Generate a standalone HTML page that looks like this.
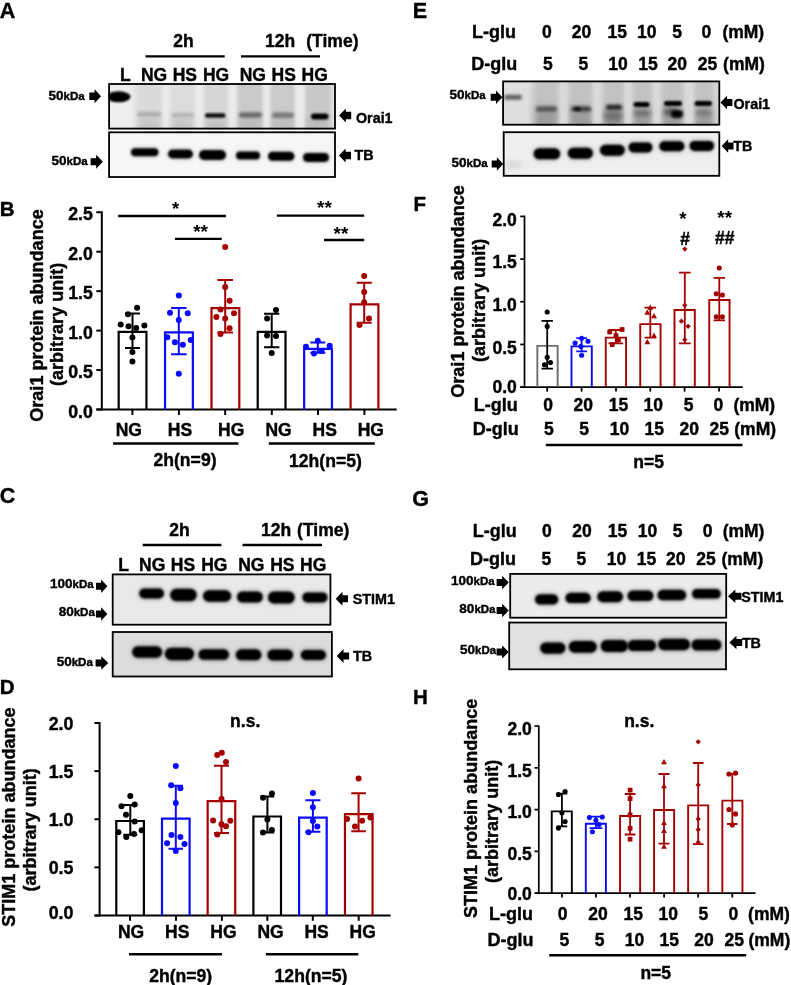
<!DOCTYPE html>
<html><head><meta charset="utf-8"><style>
html,body{margin:0;padding:0;background:#fff;}
svg{display:block;will-change:transform;}
text{font-family:"Liberation Sans", sans-serif;stroke:#000;stroke-width:0.4px;}
</style></head><body>
<svg width="791" height="985" viewBox="0 0 791 985">
<defs><filter id="b0_8" x="-50%" y="-50%" width="200%" height="200%"><feGaussianBlur stdDeviation="0.8"/></filter><filter id="b1" x="-50%" y="-50%" width="200%" height="200%"><feGaussianBlur stdDeviation="1"/></filter><filter id="b1_2" x="-50%" y="-50%" width="200%" height="200%"><feGaussianBlur stdDeviation="1.2"/></filter><filter id="b1_5" x="-50%" y="-50%" width="200%" height="200%"><feGaussianBlur stdDeviation="1.5"/></filter><filter id="b1_6" x="-50%" y="-50%" width="200%" height="200%"><feGaussianBlur stdDeviation="1.6"/></filter><filter id="b1_8" x="-50%" y="-50%" width="200%" height="200%"><feGaussianBlur stdDeviation="1.8"/></filter><filter id="b2" x="-50%" y="-50%" width="200%" height="200%"><feGaussianBlur stdDeviation="2"/></filter><filter id="b2_2" x="-50%" y="-50%" width="200%" height="200%"><feGaussianBlur stdDeviation="2.2"/></filter><filter id="b2_5" x="-50%" y="-50%" width="200%" height="200%"><feGaussianBlur stdDeviation="2.5"/></filter><filter id="b3" x="-50%" y="-50%" width="200%" height="200%"><feGaussianBlur stdDeviation="3"/></filter></defs>
<rect width="791" height="985" fill="#fff"/>
<text x="-0.3" y="18" font-size="21.5" text-anchor="start" font-weight="bold" fill="#000" >A</text>
<text x="183.5" y="47" font-size="17.5" text-anchor="middle" font-weight="bold" fill="#000" >2h</text>
<text x="280" y="47.3" font-size="17.5" text-anchor="middle" font-weight="bold" fill="#000" >12h</text>
<text x="332.4" y="47.3" font-size="17.5" text-anchor="middle" font-weight="bold" fill="#000" >(Time)</text>
<line x1="145.5" y1="56.4" x2="224.7" y2="56.4" stroke="#000" stroke-width="2.4"/>
<line x1="241" y1="56.4" x2="320" y2="56.4" stroke="#000" stroke-width="2.4"/>
<text x="125.3" y="80.5" font-size="17.5" text-anchor="middle" font-weight="bold" fill="#000" >L</text>
<text x="154.1" y="80.5" font-size="17.5" text-anchor="middle" font-weight="bold" fill="#000" >NG</text>
<text x="184.8" y="80.5" font-size="17.5" text-anchor="middle" font-weight="bold" fill="#000" >HS</text>
<text x="216" y="80.5" font-size="17.5" text-anchor="middle" font-weight="bold" fill="#000" >HG</text>
<text x="252.8" y="80.5" font-size="17.5" text-anchor="middle" font-weight="bold" fill="#000" >NG</text>
<text x="283.7" y="80.5" font-size="17.5" text-anchor="middle" font-weight="bold" fill="#000" >HS</text>
<text x="314.7" y="80.5" font-size="17.5" text-anchor="middle" font-weight="bold" fill="#000" >HG</text>
<text x="84.6" y="100" text-anchor="end" font-weight="bold" font-size="13.5">50<tspan font-size="11.5">kDa</tspan></text>
<path d="M89.3,92.55 H94.565 V89.3 L101,96.3 L94.565,103.3 V100.05 H89.3 Z" fill="#000"/>
<text x="87.6" y="164.9" text-anchor="end" font-weight="bold" font-size="13.5">50<tspan font-size="11.5">kDa</tspan></text>
<path d="M90.6,158.3 H96.135 V154.8 L102.9,161.8 L96.135,168.8 V165.3 H90.6 Z" fill="#000"/>
<clipPath id="cA1"><rect x="108.2" y="83.1" width="227.7" height="46.400000000000006"/></clipPath><g clip-path="url(#cA1)">
<rect x="109.10000000000001" y="84.0" width="225.89999999999998" height="44.60000000000001" fill="#e4e4e4" stroke="none"/>
<rect x="108" y="84" width="26" height="45" fill="#eeeeee" opacity="1" filter="url(#b2)"/>
<rect x="137" y="80" width="25" height="52" fill="#dadada" opacity="1" filter="url(#b2_2)"/>
<rect x="170" y="80" width="25" height="52" fill="#dcdcdc" opacity="1" filter="url(#b2_2)"/>
<rect x="204" y="80" width="24" height="52" fill="#d6d6d6" opacity="1" filter="url(#b2_2)"/>
<rect x="237" y="80" width="26" height="52" fill="#cacaca" opacity="1" filter="url(#b2_2)"/>
<rect x="270" y="80" width="25" height="52" fill="#cbcbcb" opacity="1" filter="url(#b2_2)"/>
<rect x="305" y="80" width="26" height="52" fill="#c8c8c8" opacity="1" filter="url(#b2_2)"/>
<rect x="163" y="80" width="6" height="52" fill="#ebebeb" opacity="1" filter="url(#b1_5)"/>
<rect x="196" y="80" width="7" height="52" fill="#ebebeb" opacity="1" filter="url(#b1_5)"/>
<rect x="229" y="80" width="7" height="52" fill="#ebebeb" opacity="1" filter="url(#b1_5)"/>
<rect x="264" y="80" width="5" height="52" fill="#ebebeb" opacity="1" filter="url(#b1_5)"/>
<rect x="296" y="80" width="8" height="52" fill="#ebebeb" opacity="1" filter="url(#b1_5)"/>
<rect x="139" y="118" width="21" height="16" fill="#b0b0b0" opacity="0.5" filter="url(#b3)"/>
<rect x="172" y="118" width="21" height="16" fill="#b0b0b0" opacity="0.5" filter="url(#b3)"/>
<rect x="206" y="118" width="20" height="16" fill="#b0b0b0" opacity="0.5" filter="url(#b3)"/>
<rect x="239" y="118" width="22" height="16" fill="#b0b0b0" opacity="0.5" filter="url(#b3)"/>
<rect x="272" y="118" width="21" height="16" fill="#b0b0b0" opacity="0.5" filter="url(#b3)"/>
<rect x="307" y="118" width="21" height="16" fill="#b0b0b0" opacity="0.5" filter="url(#b3)"/>
<ellipse cx="118.5" cy="96.8" rx="12.0" ry="5.5" fill="#000" opacity="1" filter="url(#b1)"/>
<rect x="137" y="111.8" width="24" height="5" rx="2.5" fill="#adadad" opacity="1" filter="url(#b1_8)"/>
<rect x="172" y="112.75" width="22" height="4.5" rx="2.25" fill="#b2b2b2" opacity="1" filter="url(#b1_8)"/>
<rect x="205" y="113.25" width="20.5" height="4.5" rx="2.25" fill="#0a0a0a" opacity="1" filter="url(#b1)"/>
<rect x="239" y="112.15" width="23" height="5.5" rx="2.75" fill="#6a6a6a" opacity="1" filter="url(#b1_5)"/>
<rect x="272" y="112.45" width="22" height="5.5" rx="2.75" fill="#777" opacity="1" filter="url(#b1_5)"/>
<rect x="311" y="113.4" width="17.5" height="6" rx="3.0" fill="#000" opacity="1" filter="url(#b1)"/>
</g>
<rect x="109.10000000000001" y="84.0" width="225.89999999999998" height="44.60000000000001" fill="none" stroke="#000" stroke-width="1.8"/>
<clipPath id="cA2"><rect x="108.2" y="131.4" width="227.7" height="46.5"/></clipPath><g clip-path="url(#cA2)">
<rect x="109.10000000000001" y="132.3" width="225.89999999999998" height="44.7" fill="#f6f6f6" stroke="none"/>
<rect x="130" y="146.8" width="29.400000000000006" height="11" rx="5.5" fill="#000" opacity="0.12" filter="url(#b2_2)"/>
<rect x="131" y="148.3" width="27.400000000000006" height="8" rx="4.0" fill="#000" opacity="1" filter="url(#b0_8)"/>
<rect x="167" y="148.1" width="27" height="11.8" rx="5.9" fill="#000" opacity="0.12" filter="url(#b2_2)"/>
<rect x="168" y="149.6" width="25" height="8.8" rx="4.4" fill="#000" opacity="1" filter="url(#b0_8)"/>
<rect x="198" y="148.5" width="29" height="13" rx="6.5" fill="#000" opacity="0.12" filter="url(#b2_2)"/>
<rect x="199" y="150.0" width="27" height="10" rx="5.0" fill="#000" opacity="1" filter="url(#b0_8)"/>
<rect x="235" y="149.9" width="26" height="11" rx="5.5" fill="#000" opacity="0.12" filter="url(#b2_2)"/>
<rect x="236" y="151.4" width="24" height="8" rx="4.0" fill="#000" opacity="1" filter="url(#b0_8)"/>
<rect x="267" y="150.3" width="28.399999999999977" height="12" rx="6.0" fill="#000" opacity="0.12" filter="url(#b2_2)"/>
<rect x="268" y="151.8" width="26.399999999999977" height="9" rx="4.5" fill="#000" opacity="1" filter="url(#b0_8)"/>
<rect x="302" y="151.5" width="28" height="12" rx="6.0" fill="#000" opacity="0.12" filter="url(#b2_2)"/>
<rect x="303" y="153.0" width="26" height="9" rx="4.5" fill="#000" opacity="1" filter="url(#b0_8)"/>
</g>
<rect x="109.10000000000001" y="132.3" width="225.89999999999998" height="44.7" fill="none" stroke="#000" stroke-width="1.8"/>
<path d="M351.2,111.85 H345.8 V108.6 L339.2,115.6 L345.8,122.6 V119.35 H351.2 Z" fill="#000"/>
<text x="356" y="122.7" font-size="14.3" text-anchor="start" font-weight="bold" fill="#000" >Orai1</text>
<path d="M351,151.65 H345.6 V148.4 L339,155.4 L345.6,162.4 V159.15 H351 Z" fill="#000"/>
<text x="354.6" y="160.4" font-size="14.3" text-anchor="start" font-weight="bold" fill="#000" >TB</text>
<text x="-0.2" y="216" font-size="20.5" text-anchor="start" font-weight="bold" fill="#000" >B</text>
<line x1="101.8" y1="211.3" x2="101.8" y2="410.5" stroke="#000" stroke-width="2"/>
<line x1="96.3" y1="409.5" x2="101.8" y2="409.5" stroke="#000" stroke-width="2"/>
<text x="92.8" y="417.5" font-size="17.7" text-anchor="end" font-weight="bold" fill="#000" >0.0</text>
<line x1="96.3" y1="370.05" x2="101.8" y2="370.05" stroke="#000" stroke-width="2"/>
<text x="92.8" y="378.05" font-size="17.7" text-anchor="end" font-weight="bold" fill="#000" >0.5</text>
<line x1="96.3" y1="330.6" x2="101.8" y2="330.6" stroke="#000" stroke-width="2"/>
<text x="92.8" y="338.6" font-size="17.7" text-anchor="end" font-weight="bold" fill="#000" >1.0</text>
<line x1="96.3" y1="291.15" x2="101.8" y2="291.15" stroke="#000" stroke-width="2"/>
<text x="92.8" y="299.15" font-size="17.7" text-anchor="end" font-weight="bold" fill="#000" >1.5</text>
<line x1="96.3" y1="251.7" x2="101.8" y2="251.7" stroke="#000" stroke-width="2"/>
<text x="92.8" y="259.7" font-size="17.7" text-anchor="end" font-weight="bold" fill="#000" >2.0</text>
<line x1="96.3" y1="212.25" x2="101.8" y2="212.25" stroke="#000" stroke-width="2"/>
<text x="92.8" y="220.25" font-size="17.7" text-anchor="end" font-weight="bold" fill="#000" >2.5</text>
<line x1="96.3" y1="409.5" x2="396.7" y2="409.5" stroke="#000" stroke-width="2"/>
<text x="0" y="0" font-size="18.05" text-anchor="middle" font-weight="bold" transform="translate(42.5,315.5) rotate(-90)">Orai1 protein abundance</text>
<text x="0" y="0" font-size="18.05" text-anchor="middle" font-weight="bold" transform="translate(63.2,324.4) rotate(-90)">(arbitrary unit)</text>
<path d="M118.65,409.5 V331.8 H146.45000000000002 V409.5" fill="none" stroke="#000" stroke-width="2.2"/>
<path d="M165.04999999999998,409.5 V332.3 H192.85 V409.5" fill="none" stroke="#0a0aff" stroke-width="2.2"/>
<path d="M211.5,409.5 V308.20000000000005 H239.3 V409.5" fill="none" stroke="#a50000" stroke-width="2.2"/>
<path d="M257.70000000000005,409.5 V331.90000000000003 H285.5 V409.5" fill="none" stroke="#000" stroke-width="2.2"/>
<path d="M304.15000000000003,409.5 V348.8 H331.95 V409.5" fill="none" stroke="#0a0aff" stroke-width="2.2"/>
<path d="M350.6,409.5 V304.40000000000003 H378.4 V409.5" fill="none" stroke="#a50000" stroke-width="2.2"/>
<path d="M132.5,313.6 V347.9 M125.0,313.6 H140.0 M125.0,347.9 H140.0" fill="none" stroke="#000" stroke-width="2"/>
<path d="M178.8,308 V354.2 M171.05,308 H186.55 M171.05,354.2 H186.55" fill="none" stroke="#0a0aff" stroke-width="2"/>
<path d="M225.2,279.9 V332.5 M217.39999999999998,279.9 H233.0 M217.39999999999998,332.5 H233.0" fill="none" stroke="#a50000" stroke-width="2"/>
<path d="M271.7,313.8 V347.3 M264.05,313.8 H279.34999999999997 M264.05,347.3 H279.34999999999997" fill="none" stroke="#000" stroke-width="2"/>
<path d="M317.8,342.6 V352.8 M310.3,342.6 H325.3 M310.3,352.8 H325.3" fill="none" stroke="#0a0aff" stroke-width="2"/>
<path d="M364.2,282.8 V322.7 M356.59999999999997,282.8 H371.8 M356.59999999999997,322.7 H371.8" fill="none" stroke="#a50000" stroke-width="2"/>
<circle cx="137.1" cy="307.7" r="3.0" fill="#000"/>
<circle cx="128" cy="314.3" r="3.0" fill="#000"/>
<circle cx="120.7" cy="324.4" r="3.0" fill="#000"/>
<circle cx="128.5" cy="326.3" r="3.0" fill="#000"/>
<circle cx="136.2" cy="328" r="3.0" fill="#000"/>
<circle cx="144.4" cy="325.4" r="3.0" fill="#000"/>
<circle cx="132.4" cy="337.4" r="3.0" fill="#000"/>
<circle cx="132.4" cy="352" r="3.0" fill="#000"/>
<circle cx="132.4" cy="361.4" r="3.0" fill="#000"/>
<circle cx="276" cy="310" r="3.0" fill="#000"/>
<circle cx="267.1" cy="318.5" r="3.0" fill="#000"/>
<circle cx="267.1" cy="335.6" r="3.0" fill="#000"/>
<circle cx="276" cy="336" r="3.0" fill="#000"/>
<circle cx="271.7" cy="353" r="3.0" fill="#000"/>
<circle cx="178.8" cy="295.5" r="3.0" fill="#0a0aff"/>
<circle cx="170" cy="312.8" r="3.0" fill="#0a0aff"/>
<circle cx="187.7" cy="313.2" r="3.0" fill="#0a0aff"/>
<circle cx="178.8" cy="320" r="3.0" fill="#0a0aff"/>
<circle cx="167.3" cy="337.2" r="3.0" fill="#0a0aff"/>
<circle cx="174.9" cy="342.2" r="3.0" fill="#0a0aff"/>
<circle cx="182.9" cy="344.8" r="3.0" fill="#0a0aff"/>
<circle cx="190.7" cy="340.1" r="3.0" fill="#0a0aff"/>
<circle cx="178.8" cy="373.8" r="3.0" fill="#0a0aff"/>
<circle cx="317.8" cy="340.7" r="3.0" fill="#0a0aff"/>
<circle cx="306" cy="346.8" r="3.0" fill="#0a0aff"/>
<circle cx="329.7" cy="345.8" r="3.0" fill="#0a0aff"/>
<circle cx="314" cy="353.6" r="3.0" fill="#0a0aff"/>
<circle cx="321.5" cy="351.1" r="3.0" fill="#0a0aff"/>
<circle cx="225.2" cy="247.1" r="3.0" fill="#a50000"/>
<circle cx="225.2" cy="286.9" r="3.0" fill="#a50000"/>
<circle cx="229.6" cy="300.8" r="3.0" fill="#a50000"/>
<circle cx="220.5" cy="309.4" r="3.0" fill="#a50000"/>
<circle cx="234" cy="313.2" r="3.0" fill="#a50000"/>
<circle cx="216.4" cy="317" r="3.0" fill="#a50000"/>
<circle cx="225.2" cy="318.6" r="3.0" fill="#a50000"/>
<circle cx="229.6" cy="328.3" r="3.0" fill="#a50000"/>
<circle cx="220.5" cy="334" r="3.0" fill="#a50000"/>
<circle cx="364.2" cy="276" r="3.0" fill="#a50000"/>
<circle cx="364.2" cy="292" r="3.0" fill="#a50000"/>
<circle cx="364.2" cy="302.2" r="3.0" fill="#a50000"/>
<circle cx="369" cy="318.5" r="3.0" fill="#a50000"/>
<circle cx="359.5" cy="325.1" r="3.0" fill="#a50000"/>
<line x1="118.2" y1="216" x2="225.9" y2="216" stroke="#000" stroke-width="2.3"/>
<text x="175.5" y="214.5" font-size="18.5" text-anchor="middle" font-weight="bold" fill="#000" style="stroke-width:0">*</text>
<line x1="174.9" y1="238.8" x2="221.7" y2="238.8" stroke="#000" stroke-width="2.3"/>
<text x="200.6" y="238.4" font-size="19" text-anchor="middle" font-weight="bold" fill="#000" style="stroke-width:0">**</text>
<line x1="276.9" y1="215.6" x2="364.2" y2="215.6" stroke="#000" stroke-width="2.3"/>
<text x="324.4" y="214" font-size="19" text-anchor="middle" font-weight="bold" fill="#000" style="stroke-width:0">**</text>
<line x1="324" y1="240" x2="364.2" y2="240" stroke="#000" stroke-width="2.3"/>
<text x="341" y="240.2" font-size="19" text-anchor="middle" font-weight="bold" fill="#000" style="stroke-width:0">**</text>
<line x1="132.4" y1="409.5" x2="132.4" y2="415" stroke="#000" stroke-width="2"/>
<line x1="178.9" y1="409.5" x2="178.9" y2="415" stroke="#000" stroke-width="2"/>
<line x1="225.2" y1="409.5" x2="225.2" y2="415" stroke="#000" stroke-width="2"/>
<line x1="271.8" y1="409.5" x2="271.8" y2="415" stroke="#000" stroke-width="2"/>
<line x1="318" y1="409.5" x2="318" y2="415" stroke="#000" stroke-width="2"/>
<line x1="364.4" y1="409.5" x2="364.4" y2="415" stroke="#000" stroke-width="2"/>
<text x="128.8" y="436" font-size="17.5" text-anchor="middle" font-weight="bold" fill="#000" >NG</text>
<text x="180" y="436" font-size="17.5" text-anchor="middle" font-weight="bold" fill="#000" >HS</text>
<text x="231.2" y="436" font-size="17.5" text-anchor="middle" font-weight="bold" fill="#000" >HG</text>
<text x="278.6" y="436" font-size="17.5" text-anchor="middle" font-weight="bold" fill="#000" >NG</text>
<text x="324.7" y="436" font-size="17.5" text-anchor="middle" font-weight="bold" fill="#000" >HS</text>
<text x="370.8" y="436" font-size="17.5" text-anchor="middle" font-weight="bold" fill="#000" >HG</text>
<line x1="113.1" y1="443.5" x2="238.4" y2="443.5" stroke="#000" stroke-width="2.5"/>
<line x1="268.8" y1="443.5" x2="374.8" y2="443.5" stroke="#000" stroke-width="2.5"/>
<text x="185" y="466" font-size="17.6" text-anchor="middle" font-weight="bold" fill="#000" >2h(n=9)</text>
<text x="325.4" y="467" font-size="17.6" text-anchor="middle" font-weight="bold" fill="#000" >12h(n=5)</text>
<text x="-0.3" y="503" font-size="21.5" text-anchor="start" font-weight="bold" fill="#000" >C</text>
<text x="179.5" y="536" font-size="17.5" text-anchor="middle" font-weight="bold" fill="#000" >2h</text>
<text x="276.2" y="536.3" font-size="17.5" text-anchor="middle" font-weight="bold" fill="#000" >12h</text>
<text x="323.2" y="536.3" font-size="17.5" text-anchor="middle" font-weight="bold" fill="#000" >(Time)</text>
<line x1="142.7" y1="545" x2="221.4" y2="545" stroke="#000" stroke-width="2.4"/>
<line x1="242.5" y1="545" x2="322" y2="545" stroke="#000" stroke-width="2.4"/>
<text x="123.5" y="571.3" font-size="17.5" text-anchor="middle" font-weight="bold" fill="#000" >L</text>
<text x="152.2" y="571.3" font-size="17.5" text-anchor="middle" font-weight="bold" fill="#000" >NG</text>
<text x="183" y="571.3" font-size="17.5" text-anchor="middle" font-weight="bold" fill="#000" >HS</text>
<text x="214.3" y="571.3" font-size="17.5" text-anchor="middle" font-weight="bold" fill="#000" >HG</text>
<text x="251.3" y="571.3" font-size="17.5" text-anchor="middle" font-weight="bold" fill="#000" >NG</text>
<text x="282.4" y="571.3" font-size="17.5" text-anchor="middle" font-weight="bold" fill="#000" >HS</text>
<text x="313.2" y="571.3" font-size="17.5" text-anchor="middle" font-weight="bold" fill="#000" >HG</text>
<text x="93.6" y="588.3" text-anchor="end" font-weight="bold" font-size="13.5">100<tspan font-size="11.5">kDa</tspan></text>
<path d="M96,582.8 H101.13 V579.55 L107.4,586.3 L101.13,593.05 V589.8 H96 Z" fill="#000"/>
<text x="94.8" y="616" text-anchor="end" font-weight="bold" font-size="13.5">80<tspan font-size="11.5">kDa</tspan></text>
<path d="M96,610.5 H101.13 V607.25 L107.4,614 L101.13,620.75 V617.5 H96 Z" fill="#000"/>
<text x="92.8" y="665.5" text-anchor="end" font-weight="bold" font-size="13.5">50<tspan font-size="11.5">kDa</tspan></text>
<path d="M95.6,659.5 H101.27 V656.25 L108.2,663 L101.27,669.75 V666.5 H95.6 Z" fill="#000"/>
<clipPath id="cC1"><rect x="111.8" y="573.5" width="219.5" height="52.10000000000002"/></clipPath><g clip-path="url(#cC1)">
<rect x="112.7" y="574.4" width="217.7" height="50.300000000000026" fill="#e9e9e9" stroke="none"/>
<rect x="138.2" y="587.0" width="26.80000000000001" height="13" rx="6.5" fill="#000" opacity="0.22" filter="url(#b2_2)"/>
<rect x="139.2" y="588.5" width="24.80000000000001" height="10" rx="5.0" fill="#000" opacity="1" filter="url(#b0_8)"/>
<rect x="169.2" y="587.25" width="28.5" height="15.5" rx="7.75" fill="#000" opacity="0.22" filter="url(#b2_2)"/>
<rect x="170.2" y="588.75" width="26.5" height="12.5" rx="6.25" fill="#000" opacity="1" filter="url(#b0_8)"/>
<rect x="202" y="588.75" width="30.19999999999999" height="14.5" rx="7.25" fill="#000" opacity="0.22" filter="url(#b2_2)"/>
<rect x="203" y="590.25" width="28.19999999999999" height="11.5" rx="5.75" fill="#000" opacity="1" filter="url(#b0_8)"/>
<rect x="236" y="590.0" width="27.80000000000001" height="14" rx="7.0" fill="#000" opacity="0.22" filter="url(#b2_2)"/>
<rect x="237" y="591.5" width="25.80000000000001" height="11" rx="5.5" fill="#000" opacity="1" filter="url(#b0_8)"/>
<rect x="267" y="590.1" width="28.69999999999999" height="15" rx="7.5" fill="#000" opacity="0.22" filter="url(#b2_2)"/>
<rect x="268" y="591.6" width="26.69999999999999" height="12" rx="6.0" fill="#000" opacity="1" filter="url(#b0_8)"/>
<rect x="301.4" y="590.9" width="27.100000000000023" height="13" rx="6.5" fill="#000" opacity="0.22" filter="url(#b2_2)"/>
<rect x="302.4" y="592.4" width="25.100000000000023" height="10" rx="5.0" fill="#000" opacity="1" filter="url(#b0_8)"/>
</g>
<rect x="112.7" y="574.4" width="217.7" height="50.300000000000026" fill="none" stroke="#000" stroke-width="1.8"/>
<clipPath id="cC2"><rect x="111.8" y="631.1" width="221.0" height="46.299999999999955"/></clipPath><g clip-path="url(#cC2)">
<rect x="112.7" y="632.0" width="219.2" height="44.49999999999996" fill="#dcdcdc" stroke="none"/>
<rect x="131.1" y="644.75" width="32.099999999999994" height="14.5" rx="7.25" fill="#000" opacity="0.22" filter="url(#b2_2)"/>
<rect x="132.1" y="646.25" width="30.099999999999994" height="11.5" rx="5.75" fill="#000" opacity="1" filter="url(#b0_8)"/>
<rect x="163.9" y="646.25" width="31.099999999999994" height="15.5" rx="7.75" fill="#000" opacity="0.22" filter="url(#b2_2)"/>
<rect x="164.9" y="647.75" width="29.099999999999994" height="12.5" rx="6.25" fill="#000" opacity="1" filter="url(#b0_8)"/>
<rect x="197.5" y="647.75" width="32.5" height="13.5" rx="6.75" fill="#000" opacity="0.22" filter="url(#b2_2)"/>
<rect x="198.5" y="649.25" width="30.5" height="10.5" rx="5.25" fill="#000" opacity="1" filter="url(#b0_8)"/>
<rect x="234.7" y="647.8" width="27.69999999999999" height="14" rx="7.0" fill="#000" opacity="0.22" filter="url(#b2_2)"/>
<rect x="235.7" y="649.3" width="25.69999999999999" height="11" rx="5.5" fill="#000" opacity="1" filter="url(#b0_8)"/>
<rect x="266.4" y="648.0" width="27.700000000000045" height="14" rx="7.0" fill="#000" opacity="0.22" filter="url(#b2_2)"/>
<rect x="267.4" y="649.5" width="25.700000000000045" height="11" rx="5.5" fill="#000" opacity="1" filter="url(#b0_8)"/>
<rect x="299.8" y="648.5" width="27.19999999999999" height="13" rx="6.5" fill="#000" opacity="0.22" filter="url(#b2_2)"/>
<rect x="300.8" y="650.0" width="25.19999999999999" height="10" rx="5.0" fill="#000" opacity="1" filter="url(#b0_8)"/>
</g>
<rect x="112.7" y="632.0" width="219.2" height="44.49999999999996" fill="none" stroke="#000" stroke-width="1.8"/>
<path d="M348,595.2 H342.465 V591.7 L335.7,598.7 L342.465,605.7 V602.2 H348 Z" fill="#000"/>
<text x="352.8" y="603.8" font-size="14.3" text-anchor="start" font-weight="bold" fill="#000" >STIM1</text>
<path d="M349.1,652.4 H343.52 V648.9 L336.7,655.9 L343.52,662.9 V659.4 H349.1 Z" fill="#000"/>
<text x="353" y="661.4" font-size="14.3" text-anchor="start" font-weight="bold" fill="#000" >TB</text>
<text x="-0.3" y="693.6" font-size="20.5" text-anchor="start" font-weight="bold" fill="#000" >D</text>
<line x1="99.6" y1="722" x2="99.6" y2="916.5" stroke="#000" stroke-width="2"/>
<line x1="94.4" y1="915.5" x2="99.6" y2="915.5" stroke="#000" stroke-width="2"/>
<text x="73.4" y="918.9" font-size="17.8" text-anchor="end" font-weight="bold" fill="#000" >0.0</text>
<line x1="94.4" y1="867.375" x2="99.6" y2="867.375" stroke="#000" stroke-width="2"/>
<text x="73.4" y="874.375" font-size="17.8" text-anchor="end" font-weight="bold" fill="#000" >0.5</text>
<line x1="94.4" y1="819.25" x2="99.6" y2="819.25" stroke="#000" stroke-width="2"/>
<text x="73.4" y="826.25" font-size="17.8" text-anchor="end" font-weight="bold" fill="#000" >1.0</text>
<line x1="94.4" y1="771.125" x2="99.6" y2="771.125" stroke="#000" stroke-width="2"/>
<text x="73.4" y="778.125" font-size="17.8" text-anchor="end" font-weight="bold" fill="#000" >1.5</text>
<line x1="94.4" y1="723.0" x2="99.6" y2="723.0" stroke="#000" stroke-width="2"/>
<text x="73.4" y="730.0" font-size="17.8" text-anchor="end" font-weight="bold" fill="#000" >2.0</text>
<line x1="94.4" y1="915.5" x2="390.7" y2="915.5" stroke="#000" stroke-width="2"/>
<text x="0" y="0" font-size="18.05" text-anchor="middle" font-weight="bold" transform="translate(15.2,817.1) rotate(-90)">STIM1 protein abundance</text>
<text x="0" y="0" font-size="18.05" text-anchor="middle" font-weight="bold" transform="translate(35.7,829.9) rotate(-90)">(arbitrary unit)</text>
<path d="M116.29999999999998,915.5 V821.0 H143.9 V915.5" fill="none" stroke="#000" stroke-width="2.2"/>
<path d="M162.0,915.5 V818.6 H189.60000000000002 V915.5" fill="none" stroke="#0a0aff" stroke-width="2.2"/>
<path d="M207.64999999999998,915.5 V801.1 H235.25 V915.5" fill="none" stroke="#a50000" stroke-width="2.2"/>
<path d="M253.39999999999998,915.5 V816.5 H280.99999999999994 V915.5" fill="none" stroke="#000" stroke-width="2.2"/>
<path d="M299.1,915.5 V817.7 H326.69999999999993 V915.5" fill="none" stroke="#0a0aff" stroke-width="2.2"/>
<path d="M344.95000000000005,915.5 V814.2 H372.54999999999995 V915.5" fill="none" stroke="#a50000" stroke-width="2.2"/>
<path d="M130.3,805.1 V834.7 M123.30000000000001,805.1 H137.3 M123.30000000000001,834.7 H137.3" fill="none" stroke="#000" stroke-width="2"/>
<path d="M175.8,785.8 V848.7 M168.55,785.8 H183.05 M168.55,848.7 H183.05" fill="none" stroke="#0a0aff" stroke-width="2"/>
<path d="M221.5,765.7 V833 M214.0,765.7 H229.0 M214.0,833 H229.0" fill="none" stroke="#a50000" stroke-width="2"/>
<path d="M267.4,796.6 V832.6 M260.54999999999995,796.6 H274.25 M260.54999999999995,832.6 H274.25" fill="none" stroke="#000" stroke-width="2"/>
<path d="M312.9,800.2 V831.7 M305.4,800.2 H320.4 M305.4,831.7 H320.4" fill="none" stroke="#0a0aff" stroke-width="2"/>
<path d="M358.6,793.3 V831.3 M351.25,793.3 H365.95000000000005 M351.25,831.3 H365.95000000000005" fill="none" stroke="#a50000" stroke-width="2"/>
<circle cx="130.3" cy="796" r="3.0" fill="#000"/>
<circle cx="121.5" cy="806.2" r="3.0" fill="#000"/>
<circle cx="134.7" cy="804.4" r="3.0" fill="#000"/>
<circle cx="126" cy="814.7" r="3.0" fill="#000"/>
<circle cx="134.7" cy="821.4" r="3.0" fill="#000"/>
<circle cx="118.4" cy="832.2" r="3.0" fill="#000"/>
<circle cx="141.6" cy="830.3" r="3.0" fill="#000"/>
<circle cx="126.3" cy="837.1" r="3.0" fill="#000"/>
<circle cx="134" cy="834.1" r="3.0" fill="#000"/>
<circle cx="271.9" cy="793.6" r="3.0" fill="#000"/>
<circle cx="263" cy="797.7" r="3.0" fill="#000"/>
<circle cx="267.4" cy="819.6" r="3.0" fill="#000"/>
<circle cx="271.9" cy="829.9" r="3.0" fill="#000"/>
<circle cx="263" cy="832.6" r="3.0" fill="#000"/>
<circle cx="175.8" cy="766.1" r="3.0" fill="#0a0aff"/>
<circle cx="171.2" cy="785.2" r="3.0" fill="#0a0aff"/>
<circle cx="180.4" cy="788.2" r="3.0" fill="#0a0aff"/>
<circle cx="175.8" cy="803" r="3.0" fill="#0a0aff"/>
<circle cx="171.5" cy="835" r="3.0" fill="#0a0aff"/>
<circle cx="180.4" cy="837" r="3.0" fill="#0a0aff"/>
<circle cx="167.1" cy="843.3" r="3.0" fill="#0a0aff"/>
<circle cx="184.5" cy="844.1" r="3.0" fill="#0a0aff"/>
<circle cx="175.8" cy="851" r="3.0" fill="#0a0aff"/>
<circle cx="312.9" cy="793.1" r="3.0" fill="#0a0aff"/>
<circle cx="312.9" cy="807.3" r="3.0" fill="#0a0aff"/>
<circle cx="312.9" cy="821.1" r="3.0" fill="#0a0aff"/>
<circle cx="317.3" cy="826.4" r="3.0" fill="#0a0aff"/>
<circle cx="308.5" cy="832.2" r="3.0" fill="#0a0aff"/>
<circle cx="217.2" cy="755" r="3.0" fill="#a50000"/>
<circle cx="221.8" cy="752.7" r="3.0" fill="#a50000"/>
<circle cx="226" cy="761.9" r="3.0" fill="#a50000"/>
<circle cx="221.5" cy="798.9" r="3.0" fill="#a50000"/>
<circle cx="213.1" cy="820.5" r="3.0" fill="#a50000"/>
<circle cx="221.5" cy="824.3" r="3.0" fill="#a50000"/>
<circle cx="226" cy="826.3" r="3.0" fill="#a50000"/>
<circle cx="230.3" cy="820.8" r="3.0" fill="#a50000"/>
<circle cx="217.2" cy="834.5" r="3.0" fill="#a50000"/>
<circle cx="358.6" cy="778.6" r="3.0" fill="#a50000"/>
<circle cx="347.1" cy="818.9" r="3.0" fill="#a50000"/>
<circle cx="370.4" cy="817.5" r="3.0" fill="#a50000"/>
<circle cx="362.1" cy="820.7" r="3.0" fill="#a50000"/>
<circle cx="355" cy="826.4" r="3.0" fill="#a50000"/>
<text x="245.2" y="726.7" font-size="17.5" text-anchor="middle" font-weight="bold" fill="#000" >n.s.</text>
<line x1="130" y1="915.5" x2="130" y2="920.8" stroke="#000" stroke-width="2"/>
<line x1="176" y1="915.5" x2="176" y2="920.8" stroke="#000" stroke-width="2"/>
<line x1="221.9" y1="915.5" x2="221.9" y2="920.8" stroke="#000" stroke-width="2"/>
<line x1="267.3" y1="915.5" x2="267.3" y2="920.8" stroke="#000" stroke-width="2"/>
<line x1="312.8" y1="915.5" x2="312.8" y2="920.8" stroke="#000" stroke-width="2"/>
<line x1="358.7" y1="915.5" x2="358.7" y2="920.8" stroke="#000" stroke-width="2"/>
<text x="131" y="938.4" font-size="17.5" text-anchor="middle" font-weight="bold" fill="#000" >NG</text>
<text x="177.2" y="938.4" font-size="17.5" text-anchor="middle" font-weight="bold" fill="#000" >HS</text>
<text x="223.4" y="938.4" font-size="17.5" text-anchor="middle" font-weight="bold" fill="#000" >HG</text>
<text x="270.5" y="938.4" font-size="17.5" text-anchor="middle" font-weight="bold" fill="#000" >NG</text>
<text x="316.6" y="938.4" font-size="17.5" text-anchor="middle" font-weight="bold" fill="#000" >HS</text>
<text x="362.7" y="938.4" font-size="17.5" text-anchor="middle" font-weight="bold" fill="#000" >HG</text>
<line x1="129" y1="954.2" x2="221.9" y2="954.2" stroke="#000" stroke-width="2.5"/>
<line x1="265.9" y1="954.2" x2="358.3" y2="954.2" stroke="#000" stroke-width="2.5"/>
<text x="180.7" y="981.5" font-size="17.6" text-anchor="middle" font-weight="bold" fill="#000" >2h(n=9)</text>
<text x="311" y="981.5" font-size="17.6" text-anchor="middle" font-weight="bold" fill="#000" >12h(n=5)</text>
<text x="412.8" y="18.1" font-size="21.5" text-anchor="start" font-weight="bold" fill="#000" >E</text>
<text x="494" y="37.9" font-size="18" text-anchor="middle" font-weight="bold" fill="#000" >L-glu</text>
<text x="546.75" y="37.9" font-size="17.5" text-anchor="middle" font-weight="bold" fill="#000" >0</text>
<text x="581.6" y="37.9" font-size="17.5" text-anchor="middle" font-weight="bold" fill="#000" >20</text>
<text x="617.2" y="37.9" font-size="17.5" text-anchor="middle" font-weight="bold" fill="#000" >15</text>
<text x="646.7" y="37.9" font-size="17.5" text-anchor="middle" font-weight="bold" fill="#000" >10</text>
<text x="677" y="37.9" font-size="17.5" text-anchor="middle" font-weight="bold" fill="#000" >5</text>
<text x="706.25" y="37.9" font-size="17.5" text-anchor="middle" font-weight="bold" fill="#000" >0</text>
<text x="743.3" y="37.9" font-size="17.5" text-anchor="middle" font-weight="bold" fill="#000" >(mM)</text>
<text x="494.3" y="70" font-size="18" text-anchor="middle" font-weight="bold" fill="#000" >D-glu</text>
<text x="547.85" y="70" font-size="17.5" text-anchor="middle" font-weight="bold" fill="#000" >5</text>
<text x="583.25" y="70" font-size="17.5" text-anchor="middle" font-weight="bold" fill="#000" >5</text>
<text x="618" y="70" font-size="17.5" text-anchor="middle" font-weight="bold" fill="#000" >10</text>
<text x="648" y="70" font-size="17.5" text-anchor="middle" font-weight="bold" fill="#000" >15</text>
<text x="677.3" y="70" font-size="17.5" text-anchor="middle" font-weight="bold" fill="#000" >20</text>
<text x="707.5" y="70" font-size="17.5" text-anchor="middle" font-weight="bold" fill="#000" >25</text>
<text x="744" y="70" font-size="17.5" text-anchor="middle" font-weight="bold" fill="#000" >(mM)</text>
<text x="485.6" y="99.3" text-anchor="end" font-weight="bold" font-size="13.5">50<tspan font-size="11.5">kDa</tspan></text>
<path d="M490.7,93.8 H495.965 V90.55 L502.4,97.3 L495.965,104.05 V100.8 H490.7 Z" fill="#000"/>
<text x="487.6" y="166.7" text-anchor="end" font-weight="bold" font-size="13.5">50<tspan font-size="11.5">kDa</tspan></text>
<path d="M491.7,160.5 H496.875 V157.25 L503.2,164 L496.875,170.75 V167.5 H491.7 Z" fill="#000"/>
<clipPath id="cE1"><rect x="502.2" y="80.5" width="218.00000000000006" height="45.099999999999994"/></clipPath><g clip-path="url(#cE1)">
<rect x="503.09999999999997" y="81.4" width="216.20000000000005" height="43.3" fill="#d4d4d4" stroke="none"/>
<rect x="503" y="80" width="27" height="46" fill="#dedede" opacity="1" filter="url(#b2)"/>
<rect x="534.5" y="78" width="23.899999999999977" height="52" fill="#c2c2c2" opacity="1" filter="url(#b2_5)"/>
<rect x="535.5" y="106" width="21.899999999999977" height="24" fill="#8e8e8e" opacity="0.75" filter="url(#b3)"/>
<rect x="569" y="78" width="23" height="52" fill="#c2c2c2" opacity="1" filter="url(#b2_5)"/>
<rect x="570" y="106" width="21" height="24" fill="#8e8e8e" opacity="0.75" filter="url(#b3)"/>
<rect x="602.7" y="78" width="21.299999999999955" height="52" fill="#c2c2c2" opacity="1" filter="url(#b2_5)"/>
<rect x="603.7" y="106" width="19.299999999999955" height="24" fill="#8e8e8e" opacity="0.75" filter="url(#b3)"/>
<rect x="632.7" y="78" width="19.299999999999955" height="52" fill="#c2c2c2" opacity="1" filter="url(#b2_5)"/>
<rect x="633.7" y="106" width="17.299999999999955" height="24" fill="#8e8e8e" opacity="0.75" filter="url(#b3)"/>
<rect x="662" y="78" width="21" height="52" fill="#c2c2c2" opacity="1" filter="url(#b2_5)"/>
<rect x="663" y="106" width="19" height="24" fill="#8e8e8e" opacity="0.75" filter="url(#b3)"/>
<rect x="694.6" y="78" width="18.799999999999955" height="52" fill="#c2c2c2" opacity="1" filter="url(#b2_5)"/>
<rect x="695.6" y="106" width="16.799999999999955" height="24" fill="#8e8e8e" opacity="0.75" filter="url(#b3)"/>
<rect x="560" y="78" width="7" height="52" fill="#dadada" opacity="1" filter="url(#b1_5)"/>
<rect x="594" y="78" width="7" height="52" fill="#dadada" opacity="1" filter="url(#b1_5)"/>
<rect x="625" y="78" width="6" height="52" fill="#dadada" opacity="1" filter="url(#b1_5)"/>
<rect x="654" y="78" width="6" height="52" fill="#dadada" opacity="1" filter="url(#b1_5)"/>
<rect x="685" y="78" width="8" height="52" fill="#dadada" opacity="1" filter="url(#b1_5)"/>
<rect x="504" y="94.8" width="18" height="5" rx="2.5" fill="#606060" opacity="1" filter="url(#b1_6)"/>
<rect x="536" y="106.5" width="21" height="5" rx="2.5" fill="#555" opacity="1" filter="url(#b1_6)"/>
<rect x="571" y="106.5" width="20" height="5" rx="2.5" fill="#404040" opacity="1" filter="url(#b1_6)"/>
<rect x="574" y="107.25" width="7" height="3.5" rx="1.75" fill="#111" opacity="1" filter="url(#b1)"/>
<rect x="606" y="104.8" width="16" height="5" rx="2.5" fill="#222" opacity="1" filter="url(#b1_5)"/>
<rect x="604" y="111.0" width="18" height="10" rx="5.0" fill="#666" opacity="0.8" filter="url(#b2_5)"/>
<rect x="633.5" y="102.1" width="16.0" height="5" rx="2.5" fill="#000" opacity="1" filter="url(#b1_2)"/>
<rect x="634" y="110.8" width="16" height="5" rx="2.5" fill="#6a6a6a" opacity="1" filter="url(#b2)"/>
<rect x="664" y="101.0" width="18" height="5" rx="2.5" fill="#000" opacity="1" filter="url(#b1_2)"/>
<rect x="664" y="108.5" width="12" height="7" rx="3.5" fill="#555" opacity="1" filter="url(#b2)"/>
<rect x="671" y="110.0" width="12" height="8" rx="4.0" fill="#000" opacity="1" filter="url(#b1_8)"/>
<rect x="694.5" y="101.0" width="17.5" height="5" rx="2.5" fill="#000" opacity="1" filter="url(#b1_2)"/>
<rect x="696" y="110.5" width="15" height="5" rx="2.5" fill="#777" opacity="1" filter="url(#b2)"/>
</g>
<rect x="503.09999999999997" y="81.4" width="216.20000000000005" height="43.3" fill="none" stroke="#000" stroke-width="1.8"/>
<clipPath id="cE2"><rect x="502.8" y="131.3" width="217.40000000000003" height="45.39999999999998"/></clipPath><g clip-path="url(#cE2)">
<rect x="503.7" y="132.20000000000002" width="215.60000000000002" height="43.59999999999998" fill="#eeeeee" stroke="none"/>
<rect x="505" y="161.0" width="17" height="8" rx="4.0" fill="#dcdcdc" opacity="1" filter="url(#b2)"/>
<rect x="532.6" y="146.8" width="28.600000000000023" height="14" rx="7.0" fill="#000" opacity="0.22" filter="url(#b2_2)"/>
<rect x="533.6" y="148.3" width="26.600000000000023" height="11" rx="5.5" fill="#000" opacity="1" filter="url(#b0_8)"/>
<rect x="566.8" y="146.2" width="27.100000000000023" height="14" rx="7.0" fill="#000" opacity="0.22" filter="url(#b2_2)"/>
<rect x="567.8" y="147.7" width="25.100000000000023" height="11" rx="5.5" fill="#000" opacity="1" filter="url(#b0_8)"/>
<rect x="599" y="143.2" width="26.799999999999955" height="14" rx="7.0" fill="#000" opacity="0.22" filter="url(#b2_2)"/>
<rect x="600" y="144.7" width="24.799999999999955" height="11" rx="5.5" fill="#000" opacity="1" filter="url(#b0_8)"/>
<rect x="627.6" y="140.9" width="25.799999999999955" height="13" rx="6.5" fill="#000" opacity="0.22" filter="url(#b2_2)"/>
<rect x="628.6" y="142.4" width="23.799999999999955" height="10" rx="5.0" fill="#000" opacity="1" filter="url(#b0_8)"/>
<rect x="658.3" y="139.8" width="27.100000000000023" height="13" rx="6.5" fill="#000" opacity="0.22" filter="url(#b2_2)"/>
<rect x="659.3" y="141.3" width="25.100000000000023" height="10" rx="5.0" fill="#000" opacity="1" filter="url(#b0_8)"/>
<rect x="688.6" y="139.4" width="26.399999999999977" height="13" rx="6.5" fill="#000" opacity="0.22" filter="url(#b2_2)"/>
<rect x="689.6" y="140.9" width="24.399999999999977" height="10" rx="5.0" fill="#000" opacity="1" filter="url(#b0_8)"/>
</g>
<rect x="503.7" y="132.20000000000002" width="215.60000000000002" height="43.59999999999998" fill="none" stroke="#000" stroke-width="1.8"/>
<path d="M732.4,99.0 H727.045 V95.75 L720.5,102.5 L727.045,109.25 V106.0 H732.4 Z" fill="#000"/>
<text x="733.5" y="108.5" font-size="14.3" text-anchor="start" font-weight="bold" fill="#000" >Orai1</text>
<path d="M733.5,142.4 H728.145 V139.15 L721.6,145.9 L728.145,152.65 V149.4 H733.5 Z" fill="#000"/>
<text x="733.2" y="151.1" font-size="14.3" text-anchor="start" font-weight="bold" fill="#000" >TB</text>
<text x="413.5" y="210.6" font-size="20.5" text-anchor="start" font-weight="bold" fill="#000" >F</text>
<line x1="524.5" y1="215.6" x2="524.5" y2="387.6" stroke="#000" stroke-width="1.7"/>
<line x1="520.2" y1="387.1" x2="524.5" y2="387.1" stroke="#000" stroke-width="1.7"/>
<text x="516.8" y="393.3" font-size="17.5" text-anchor="end" font-weight="bold" fill="#000" >0.0</text>
<line x1="520.2" y1="344.425" x2="524.5" y2="344.425" stroke="#000" stroke-width="1.7"/>
<text x="516.8" y="353.825" font-size="17.5" text-anchor="end" font-weight="bold" fill="#000" >0.5</text>
<line x1="520.2" y1="301.75" x2="524.5" y2="301.75" stroke="#000" stroke-width="1.7"/>
<text x="516.8" y="311.15" font-size="17.5" text-anchor="end" font-weight="bold" fill="#000" >1.0</text>
<line x1="520.2" y1="259.07500000000005" x2="524.5" y2="259.07500000000005" stroke="#000" stroke-width="1.7"/>
<text x="516.8" y="268.475" font-size="17.5" text-anchor="end" font-weight="bold" fill="#000" >1.5</text>
<line x1="520.2" y1="216.40000000000003" x2="524.5" y2="216.40000000000003" stroke="#000" stroke-width="1.7"/>
<text x="516.8" y="225.80000000000004" font-size="17.5" text-anchor="end" font-weight="bold" fill="#000" >2.0</text>
<line x1="520.2" y1="387.1" x2="742.8" y2="387.1" stroke="#000" stroke-width="1.8"/>
<text x="0" y="0" font-size="18.05" text-anchor="middle" font-weight="bold" transform="translate(464,291.5) rotate(-90)">Orai1 protein abundance</text>
<text x="0" y="0" font-size="18.05" text-anchor="middle" font-weight="bold" transform="translate(484.8,300.45) rotate(-90)">(arbitrary unit)</text>
<path d="M537.35,387.1 V345.84999999999997 H557.65 V387.1" fill="none" stroke="#6c6c6c" stroke-width="1.9"/>
<path d="M571.5,387.1 V346.34999999999997 H591.8 V387.1" fill="none" stroke="#0a0aff" stroke-width="1.9"/>
<path d="M605.75,387.1 V337.65 H626.05 V387.1" fill="none" stroke="#a50000" stroke-width="1.9"/>
<path d="M640.25,387.1 V324.15 H660.55 V387.1" fill="none" stroke="#a50000" stroke-width="1.9"/>
<path d="M674.5,387.1 V309.95 H694.8 V387.1" fill="none" stroke="#a50000" stroke-width="1.9"/>
<path d="M709.25,387.1 V300.05 H729.55 V387.1" fill="none" stroke="#a50000" stroke-width="1.9"/>
<path d="M547.2,320.8 V368.6 M541.5,320.8 H552.9000000000001 M541.5,368.6 H552.9000000000001" fill="none" stroke="#000" stroke-width="1.8"/>
<path d="M581.6,338.2 V351.4 M576.25,338.2 H586.95 M576.25,351.4 H586.95" fill="none" stroke="#0a0aff" stroke-width="1.8"/>
<path d="M615.8,330 V343.4 M608.5,330 H623.0999999999999 M608.5,343.4 H623.0999999999999" fill="none" stroke="#a50000" stroke-width="1.8"/>
<path d="M650.3,307.6 V337.7 M644.5,307.6 H656.0999999999999 M644.5,337.7 H656.0999999999999" fill="none" stroke="#a50000" stroke-width="1.8"/>
<path d="M684.8,272.7 V343.4 M678.9,272.7 H690.6999999999999 M678.9,343.4 H690.6999999999999" fill="none" stroke="#a50000" stroke-width="1.8"/>
<path d="M719.3,277.8 V320.4 M713.55,277.8 H725.05 M713.55,320.4 H725.05" fill="none" stroke="#a50000" stroke-width="1.8"/>
<circle cx="547.2" cy="312" r="2.55" fill="#000"/>
<circle cx="547.2" cy="326.4" r="2.55" fill="#000"/>
<circle cx="547.2" cy="357.2" r="2.55" fill="#000"/>
<circle cx="550.5" cy="362.5" r="2.55" fill="#000"/>
<circle cx="544.5" cy="364.8" r="2.55" fill="#000"/>
<circle cx="581.6" cy="338.2" r="2.55" fill="#0a0aff"/>
<circle cx="575.1" cy="343.1" r="2.55" fill="#0a0aff"/>
<circle cx="588" cy="341.3" r="2.55" fill="#0a0aff"/>
<circle cx="580.9" cy="346.4" r="2.55" fill="#0a0aff"/>
<circle cx="581.6" cy="355.2" r="2.55" fill="#0a0aff"/>
<rect x="607.3375000000001" y="329.6375" width="4.7250000000000005" height="4.7250000000000005" fill="#a50000"/>
<rect x="619.7375000000001" y="327.1375" width="4.7250000000000005" height="4.7250000000000005" fill="#a50000"/>
<rect x="613.6375" y="333.2375" width="4.7250000000000005" height="4.7250000000000005" fill="#a50000"/>
<rect x="616.0375" y="337.7375" width="4.7250000000000005" height="4.7250000000000005" fill="#a50000"/>
<rect x="609.9375" y="342.2375" width="4.7250000000000005" height="4.7250000000000005" fill="#a50000"/>
<path d="M650.3,304.495 L653.24975,309.7735 L647.35025,309.7735 Z" fill="#a50000"/>
<path d="M647.3,309.59499999999997 L650.24975,314.8735 L644.35025,314.8735 Z" fill="#a50000"/>
<path d="M654,312.995 L656.94975,318.2735 L651.05025,318.2735 Z" fill="#a50000"/>
<path d="M654,332.495 L656.94975,337.7735 L651.05025,337.7735 Z" fill="#a50000"/>
<path d="M647.3,338.995 L650.24975,344.2735 L644.35025,344.2735 Z" fill="#a50000"/>
<path d="M684.8,246.46 L687.4399999999999,249.1 L684.8,251.73999999999998 L682.16,249.1 Z" fill="#a50000"/>
<path d="M684.8,302.56 L687.4399999999999,305.2 L684.8,307.84 L682.16,305.2 Z" fill="#a50000"/>
<path d="M681.4,318.56 L684.04,321.2 L681.4,323.84 L678.76,321.2 Z" fill="#a50000"/>
<path d="M688.1,323.66 L690.74,326.3 L688.1,328.94 L685.46,326.3 Z" fill="#a50000"/>
<path d="M684.8,337.06 L687.4399999999999,339.7 L684.8,342.34 L682.16,339.7 Z" fill="#a50000"/>
<circle cx="719.3" cy="268" r="2.55" fill="#a50000"/>
<circle cx="716.3" cy="293.8" r="2.55" fill="#a50000"/>
<circle cx="722.4" cy="295" r="2.55" fill="#a50000"/>
<circle cx="716.3" cy="316.8" r="2.55" fill="#a50000"/>
<circle cx="722.4" cy="316.8" r="2.55" fill="#a50000"/>
<text x="682.85" y="224.5" font-size="18.5" text-anchor="middle" font-weight="bold" fill="#000" style="stroke-width:0">*</text>
<text x="685.15" y="244.7" font-size="17.5" text-anchor="middle" font-weight="bold" fill="#000" >#</text>
<text x="724.7" y="224.2" font-size="19" text-anchor="middle" font-weight="bold" fill="#000" style="stroke-width:0">**</text>
<text x="724.85" y="244.3" font-size="17.5" text-anchor="middle" font-weight="bold" fill="#000" >##</text>
<line x1="547.2" y1="387.1" x2="547.2" y2="391.6" stroke="#000" stroke-width="1.8"/>
<line x1="581.6" y1="387.1" x2="581.6" y2="391.6" stroke="#000" stroke-width="1.8"/>
<line x1="616" y1="387.1" x2="616" y2="391.6" stroke="#000" stroke-width="1.8"/>
<line x1="650.3" y1="387.1" x2="650.3" y2="391.6" stroke="#000" stroke-width="1.8"/>
<line x1="684.6" y1="387.1" x2="684.6" y2="391.6" stroke="#000" stroke-width="1.8"/>
<line x1="719.1" y1="387.1" x2="719.1" y2="391.6" stroke="#000" stroke-width="1.8"/>
<text x="495.75" y="411" font-size="18" text-anchor="middle" font-weight="bold" fill="#000" >L-glu</text>
<text x="548.2" y="411" font-size="17.5" text-anchor="middle" font-weight="bold" fill="#000" >0</text>
<text x="583.3" y="411" font-size="17.5" text-anchor="middle" font-weight="bold" fill="#000" >20</text>
<text x="618.5" y="411" font-size="17.5" text-anchor="middle" font-weight="bold" fill="#000" >15</text>
<text x="653.2" y="411" font-size="17.5" text-anchor="middle" font-weight="bold" fill="#000" >10</text>
<text x="688.5" y="411" font-size="17.5" text-anchor="middle" font-weight="bold" fill="#000" >5</text>
<text x="718.25" y="411" font-size="17.5" text-anchor="middle" font-weight="bold" fill="#000" >0</text>
<text x="754.3" y="411" font-size="17.5" text-anchor="middle" font-weight="bold" fill="#000" >(mM)</text>
<text x="495.65" y="434.5" font-size="18" text-anchor="middle" font-weight="bold" fill="#000" >D-glu</text>
<text x="548.75" y="434.5" font-size="17.5" text-anchor="middle" font-weight="bold" fill="#000" >5</text>
<text x="584.15" y="434.5" font-size="17.5" text-anchor="middle" font-weight="bold" fill="#000" >5</text>
<text x="619.45" y="434.5" font-size="17.5" text-anchor="middle" font-weight="bold" fill="#000" >10</text>
<text x="654.15" y="434.5" font-size="17.5" text-anchor="middle" font-weight="bold" fill="#000" >15</text>
<text x="689.15" y="434.5" font-size="17.5" text-anchor="middle" font-weight="bold" fill="#000" >20</text>
<text x="719.35" y="434.5" font-size="17.5" text-anchor="middle" font-weight="bold" fill="#000" >25</text>
<text x="755.15" y="434.5" font-size="17.5" text-anchor="middle" font-weight="bold" fill="#000" >(mM)</text>
<line x1="545.8" y1="445" x2="742.5" y2="445" stroke="#000" stroke-width="2.5"/>
<text x="648.7" y="467.5" font-size="17.5" text-anchor="middle" font-weight="bold" fill="#000" >n=5</text>
<text x="412.3" y="505.5" font-size="21.5" text-anchor="start" font-weight="bold" fill="#000" >G</text>
<text x="494.8" y="537.2" font-size="18" text-anchor="middle" font-weight="bold" fill="#000" >L-glu</text>
<text x="546.95" y="537.2" font-size="17.5" text-anchor="middle" font-weight="bold" fill="#000" >0</text>
<text x="582.1" y="537.2" font-size="17.5" text-anchor="middle" font-weight="bold" fill="#000" >20</text>
<text x="617.5" y="537.2" font-size="17.5" text-anchor="middle" font-weight="bold" fill="#000" >15</text>
<text x="647.55" y="537.2" font-size="17.5" text-anchor="middle" font-weight="bold" fill="#000" >10</text>
<text x="677.65" y="537.2" font-size="17.5" text-anchor="middle" font-weight="bold" fill="#000" >5</text>
<text x="707.55" y="537.2" font-size="17.5" text-anchor="middle" font-weight="bold" fill="#000" >0</text>
<text x="743.55" y="537.2" font-size="17.5" text-anchor="middle" font-weight="bold" fill="#000" >(mM)</text>
<text x="493" y="564.6" font-size="18" text-anchor="middle" font-weight="bold" fill="#000" >D-glu</text>
<text x="546.45" y="564.6" font-size="17.5" text-anchor="middle" font-weight="bold" fill="#000" >5</text>
<text x="581.4" y="564.6" font-size="17.5" text-anchor="middle" font-weight="bold" fill="#000" >5</text>
<text x="616.6" y="564.6" font-size="17.5" text-anchor="middle" font-weight="bold" fill="#000" >10</text>
<text x="646.5" y="564.6" font-size="17.5" text-anchor="middle" font-weight="bold" fill="#000" >15</text>
<text x="675.7" y="564.6" font-size="17.5" text-anchor="middle" font-weight="bold" fill="#000" >20</text>
<text x="705.9" y="564.6" font-size="17.5" text-anchor="middle" font-weight="bold" fill="#000" >25</text>
<text x="742.35" y="564.6" font-size="17.5" text-anchor="middle" font-weight="bold" fill="#000" >(mM)</text>
<text x="494.7" y="585.2" text-anchor="end" font-weight="bold" font-size="13.5">100<tspan font-size="11.5">kDa</tspan></text>
<path d="M496.6,579.1 H502.09000000000003 V575.85 L508.8,582.6 L502.09000000000003,589.35 V586.1 H496.6 Z" fill="#000"/>
<text x="495.5" y="613.1" text-anchor="end" font-weight="bold" font-size="13.5">80<tspan font-size="11.5">kDa</tspan></text>
<path d="M496.6,607.0 H502.09000000000003 V603.75 L508.8,610.5 L502.09000000000003,617.25 V614.0 H496.6 Z" fill="#000"/>
<text x="496.1" y="654" text-anchor="end" font-weight="bold" font-size="13.5">50<tspan font-size="11.5">kDa</tspan></text>
<path d="M496.6,648.5 H502.09000000000003 V645.25 L508.8,652 L502.09000000000003,658.75 V655.5 H496.6 Z" fill="#000"/>
<clipPath id="cG1"><rect x="509.3" y="573" width="217.8" height="45.60000000000002"/></clipPath><g clip-path="url(#cG1)">
<rect x="510.2" y="573.9" width="216.0" height="43.800000000000026" fill="#ececec" stroke="none"/>
<rect x="534" y="592.75" width="25.299999999999955" height="13.3" rx="6.65" fill="#000" opacity="0.22" filter="url(#b2_2)"/>
<rect x="535" y="594.25" width="23.299999999999955" height="10.3" rx="5.15" fill="#000" opacity="1" filter="url(#b0_8)"/>
<rect x="564.4" y="591.25" width="27.300000000000068" height="13.3" rx="6.65" fill="#000" opacity="0.22" filter="url(#b2_2)"/>
<rect x="565.4" y="592.75" width="25.300000000000068" height="10.3" rx="5.15" fill="#000" opacity="1" filter="url(#b0_8)"/>
<rect x="596.3" y="589.7" width="27.700000000000045" height="14" rx="7.0" fill="#000" opacity="0.22" filter="url(#b2_2)"/>
<rect x="597.3" y="591.2" width="25.700000000000045" height="11" rx="5.5" fill="#000" opacity="1" filter="url(#b0_8)"/>
<rect x="626.5" y="588.95" width="27.899999999999977" height="13.5" rx="6.75" fill="#000" opacity="0.22" filter="url(#b2_2)"/>
<rect x="627.5" y="590.45" width="25.899999999999977" height="10.5" rx="5.25" fill="#000" opacity="1" filter="url(#b0_8)"/>
<rect x="656.4" y="588.35" width="30.800000000000068" height="13.5" rx="6.75" fill="#000" opacity="0.22" filter="url(#b2_2)"/>
<rect x="657.4" y="589.85" width="28.800000000000068" height="10.5" rx="5.25" fill="#000" opacity="1" filter="url(#b0_8)"/>
<rect x="691" y="587.55" width="30.799999999999955" height="12.5" rx="6.25" fill="#000" opacity="0.22" filter="url(#b2_2)"/>
<rect x="692" y="589.05" width="28.799999999999955" height="9.5" rx="4.75" fill="#000" opacity="1" filter="url(#b0_8)"/>
</g>
<rect x="510.2" y="573.9" width="216.0" height="43.800000000000026" fill="none" stroke="#000" stroke-width="1.8"/>
<clipPath id="cG2"><rect x="508.3" y="621.65" width="218.59999999999997" height="48.55000000000007"/></clipPath><g clip-path="url(#cG2)">
<rect x="509.2" y="622.55" width="216.79999999999995" height="46.75000000000007" fill="#e2e2e2" stroke="none"/>
<rect x="539.2" y="640.95" width="27.199999999999932" height="14.3" rx="7.15" fill="#000" opacity="0.22" filter="url(#b2_2)"/>
<rect x="540.2" y="642.45" width="25.199999999999932" height="11.3" rx="5.65" fill="#000" opacity="1" filter="url(#b0_8)"/>
<rect x="567.7" y="639.4499999999999" width="30.09999999999991" height="14.7" rx="7.35" fill="#000" opacity="0.22" filter="url(#b2_2)"/>
<rect x="568.7" y="640.9499999999999" width="28.09999999999991" height="11.7" rx="5.85" fill="#000" opacity="1" filter="url(#b0_8)"/>
<rect x="599.6" y="638.5" width="29.399999999999977" height="15" rx="7.5" fill="#000" opacity="0.22" filter="url(#b2_2)"/>
<rect x="600.6" y="640.0" width="27.399999999999977" height="12" rx="6.0" fill="#000" opacity="1" filter="url(#b0_8)"/>
<rect x="626.5" y="638.6" width="30.5" height="14" rx="7.0" fill="#000" opacity="0.22" filter="url(#b2_2)"/>
<rect x="627.5" y="640.1" width="28.5" height="11" rx="5.5" fill="#000" opacity="1" filter="url(#b0_8)"/>
<rect x="657.2" y="637.25" width="33.799999999999955" height="14.5" rx="7.25" fill="#000" opacity="0.22" filter="url(#b2_2)"/>
<rect x="658.2" y="638.75" width="31.799999999999955" height="11.5" rx="5.75" fill="#000" opacity="1" filter="url(#b0_8)"/>
<rect x="690.5" y="638.0" width="31.899999999999977" height="14" rx="7.0" fill="#000" opacity="0.22" filter="url(#b2_2)"/>
<rect x="691.5" y="639.5" width="29.899999999999977" height="11" rx="5.5" fill="#000" opacity="1" filter="url(#b0_8)"/>
</g>
<rect x="509.2" y="622.55" width="216.79999999999995" height="46.75000000000007" fill="none" stroke="#000" stroke-width="1.8"/>
<path d="M741.4,592.7 H735.37 V589.45 L728,596.2 L735.37,602.95 V599.7 H741.4 Z" fill="#000"/>
<text x="741.3" y="601.5" font-size="14.3" text-anchor="start" font-weight="bold" fill="#000" >STIM1</text>
<path d="M742.2,638.9 H736.44 V635.65 L729.4,642.4 L736.44,649.15 V645.9 H742.2 Z" fill="#000"/>
<text x="741.9" y="648.2" font-size="14.3" text-anchor="start" font-weight="bold" fill="#000" >TB</text>
<text x="413" y="703.9" font-size="20.5" text-anchor="start" font-weight="bold" fill="#000" >H</text>
<line x1="538.8" y1="725.3" x2="538.8" y2="893.6" stroke="#000" stroke-width="1.7"/>
<line x1="534.5" y1="893.1" x2="538.8" y2="893.1" stroke="#000" stroke-width="1.7"/>
<text x="531.8" y="900.3000000000001" font-size="17.5" text-anchor="end" font-weight="bold" fill="#000" >0.0</text>
<line x1="534.5" y1="851.35" x2="538.8" y2="851.35" stroke="#000" stroke-width="1.7"/>
<text x="531.8" y="860.15" font-size="17.5" text-anchor="end" font-weight="bold" fill="#000" >0.5</text>
<line x1="534.5" y1="809.6" x2="538.8" y2="809.6" stroke="#000" stroke-width="1.7"/>
<text x="531.8" y="818.4" font-size="17.5" text-anchor="end" font-weight="bold" fill="#000" >1.0</text>
<line x1="534.5" y1="767.85" x2="538.8" y2="767.85" stroke="#000" stroke-width="1.7"/>
<text x="531.8" y="776.65" font-size="17.5" text-anchor="end" font-weight="bold" fill="#000" >1.5</text>
<line x1="534.5" y1="726.1" x2="538.8" y2="726.1" stroke="#000" stroke-width="1.7"/>
<text x="531.8" y="734.9" font-size="17.5" text-anchor="end" font-weight="bold" fill="#000" >2.0</text>
<line x1="535.4" y1="893.1" x2="755.5" y2="893.1" stroke="#000" stroke-width="1.8"/>
<text x="0" y="0" font-size="18.05" text-anchor="middle" font-weight="bold" transform="translate(477.25,808.4) rotate(-90)">STIM1 protein abundance</text>
<text x="0" y="0" font-size="18.05" text-anchor="middle" font-weight="bold" transform="translate(498,821.4) rotate(-90)">(arbitrary unit)</text>
<path d="M551.75,893.1 V811.35 H571.8499999999999 V893.1" fill="none" stroke="#000" stroke-width="1.9"/>
<path d="M585.8000000000001,893.1 V823.75 H605.9 V893.1" fill="none" stroke="#0a0aff" stroke-width="1.9"/>
<path d="M620.0500000000001,893.1 V815.95 H640.15 V893.1" fill="none" stroke="#a50000" stroke-width="1.9"/>
<path d="M654.0500000000001,893.1 V810.0500000000001 H674.15 V893.1" fill="none" stroke="#a50000" stroke-width="1.9"/>
<path d="M688.1500000000001,893.1 V805.35 H708.25 V893.1" fill="none" stroke="#a50000" stroke-width="1.9"/>
<path d="M722.35,893.1 V800.6500000000001 H742.4499999999999 V893.1" fill="none" stroke="#a50000" stroke-width="1.9"/>
<path d="M561.9,793.6 V826.4 M556.55,793.6 H567.25 M556.55,826.4 H567.25" fill="none" stroke="#000" stroke-width="1.8"/>
<path d="M595.9,816.6 V828.1 M589.4499999999999,816.6 H602.35 M589.4499999999999,828.1 H602.35" fill="none" stroke="#0a0aff" stroke-width="1.8"/>
<path d="M630.1,794 V834.5 M624.7,794 H635.5 M624.7,834.5 H635.5" fill="none" stroke="#a50000" stroke-width="1.8"/>
<path d="M664,774 V843.6 M658.5,774 H669.5 M658.5,843.6 H669.5" fill="none" stroke="#a50000" stroke-width="1.8"/>
<path d="M698.2,763 V844.2 M692.9000000000001,763 H703.5 M692.9000000000001,844.2 H703.5" fill="none" stroke="#a50000" stroke-width="1.8"/>
<path d="M732.3,774 V824 M727.0,774 H737.5999999999999 M727.0,824 H737.5999999999999" fill="none" stroke="#a50000" stroke-width="1.8"/>
<circle cx="565.1" cy="791.5" r="2.55" fill="#000"/>
<circle cx="558.4" cy="794.5" r="2.55" fill="#000"/>
<circle cx="561.9" cy="812.7" r="2.55" fill="#000"/>
<circle cx="565.1" cy="821.6" r="2.55" fill="#000"/>
<circle cx="558.4" cy="828.1" r="2.55" fill="#000"/>
<circle cx="589.4" cy="817.5" r="2.55" fill="#0a0aff"/>
<circle cx="602.3" cy="817" r="2.55" fill="#0a0aff"/>
<circle cx="595.9" cy="820.2" r="2.55" fill="#0a0aff"/>
<circle cx="599.1" cy="824.6" r="2.55" fill="#0a0aff"/>
<circle cx="592.4" cy="831.7" r="2.55" fill="#0a0aff"/>
<rect x="627.7375000000001" y="787.7375000000001" width="4.7250000000000005" height="4.7250000000000005" fill="#a50000"/>
<rect x="627.7375000000001" y="796.2375000000001" width="4.7250000000000005" height="4.7250000000000005" fill="#a50000"/>
<rect x="627.7375000000001" y="812.5375" width="4.7250000000000005" height="4.7250000000000005" fill="#a50000"/>
<rect x="627.7375000000001" y="825.9375" width="4.7250000000000005" height="4.7250000000000005" fill="#a50000"/>
<rect x="627.7375000000001" y="836.8375000000001" width="4.7250000000000005" height="4.7250000000000005" fill="#a50000"/>
<path d="M664,758.995 L666.94975,764.2735 L661.05025,764.2735 Z" fill="#a50000"/>
<path d="M664,782.895 L666.94975,788.1735 L661.05025,788.1735 Z" fill="#a50000"/>
<path d="M664,819.6949999999999 L666.94975,824.9735 L661.05025,824.9735 Z" fill="#a50000"/>
<path d="M664,827.795 L666.94975,833.0735 L661.05025,833.0735 Z" fill="#a50000"/>
<path d="M664,843.595 L666.94975,848.8735 L661.05025,848.8735 Z" fill="#a50000"/>
<path d="M698.2,739.16 L700.84,741.8 L698.2,744.4399999999999 L695.5600000000001,741.8 Z" fill="#a50000"/>
<path d="M698.2,782.26 L700.84,784.9 L698.2,787.54 L695.5600000000001,784.9 Z" fill="#a50000"/>
<path d="M698.2,816.36 L700.84,819 L698.2,821.64 L695.5600000000001,819 Z" fill="#a50000"/>
<path d="M698.2,826.96 L700.84,829.6 L698.2,832.24 L695.5600000000001,829.6 Z" fill="#a50000"/>
<path d="M698.2,839.66 L700.84,842.3 L698.2,844.9399999999999 L695.5600000000001,842.3 Z" fill="#a50000"/>
<circle cx="728.9" cy="774" r="2.55" fill="#a50000"/>
<circle cx="735.5" cy="773.1" r="2.55" fill="#a50000"/>
<circle cx="728.9" cy="809.5" r="2.55" fill="#a50000"/>
<circle cx="735.5" cy="813.9" r="2.55" fill="#a50000"/>
<circle cx="732.3" cy="824.9" r="2.55" fill="#a50000"/>
<text x="639.25" y="726.5" font-size="17.5" text-anchor="middle" font-weight="bold" fill="#000" >n.s.</text>
<line x1="561.9" y1="893.1" x2="561.9" y2="897.5" stroke="#000" stroke-width="1.8"/>
<line x1="595.9" y1="893.1" x2="595.9" y2="897.5" stroke="#000" stroke-width="1.8"/>
<line x1="630" y1="893.1" x2="630" y2="897.5" stroke="#000" stroke-width="1.8"/>
<line x1="664.1" y1="893.1" x2="664.1" y2="897.5" stroke="#000" stroke-width="1.8"/>
<line x1="698.2" y1="893.1" x2="698.2" y2="897.5" stroke="#000" stroke-width="1.8"/>
<line x1="732.3" y1="893.1" x2="732.3" y2="897.5" stroke="#000" stroke-width="1.8"/>
<text x="511" y="919.8" font-size="18" text-anchor="middle" font-weight="bold" fill="#000" >L-glu</text>
<text x="562.65" y="919.8" font-size="17.5" text-anchor="middle" font-weight="bold" fill="#000" >0</text>
<text x="598.05" y="919.8" font-size="17.5" text-anchor="middle" font-weight="bold" fill="#000" >20</text>
<text x="633.35" y="919.8" font-size="17.5" text-anchor="middle" font-weight="bold" fill="#000" >15</text>
<text x="668.35" y="919.8" font-size="17.5" text-anchor="middle" font-weight="bold" fill="#000" >10</text>
<text x="703.35" y="919.8" font-size="17.5" text-anchor="middle" font-weight="bold" fill="#000" >5</text>
<text x="733.35" y="919.8" font-size="17.5" text-anchor="middle" font-weight="bold" fill="#000" >0</text>
<text x="769" y="919.8" font-size="17.5" text-anchor="middle" font-weight="bold" fill="#000" >(mM)</text>
<text x="510.6" y="945.6" font-size="18" text-anchor="middle" font-weight="bold" fill="#000" >D-glu</text>
<text x="564.45" y="945.6" font-size="17.5" text-anchor="middle" font-weight="bold" fill="#000" >5</text>
<text x="599.6" y="945.6" font-size="17.5" text-anchor="middle" font-weight="bold" fill="#000" >5</text>
<text x="634.4" y="945.6" font-size="17.5" text-anchor="middle" font-weight="bold" fill="#000" >10</text>
<text x="669.25" y="945.6" font-size="17.5" text-anchor="middle" font-weight="bold" fill="#000" >15</text>
<text x="704.05" y="945.6" font-size="17.5" text-anchor="middle" font-weight="bold" fill="#000" >20</text>
<text x="734.15" y="945.6" font-size="17.5" text-anchor="middle" font-weight="bold" fill="#000" >25</text>
<text x="769.35" y="945.6" font-size="17.5" text-anchor="middle" font-weight="bold" fill="#000" >(mM)</text>
<line x1="549.2" y1="955.3" x2="746.2" y2="955.3" stroke="#000" stroke-width="2.5"/>
<text x="655.75" y="978.8" font-size="17.5" text-anchor="middle" font-weight="bold" fill="#000" >n=5</text>
</svg></body></html>
